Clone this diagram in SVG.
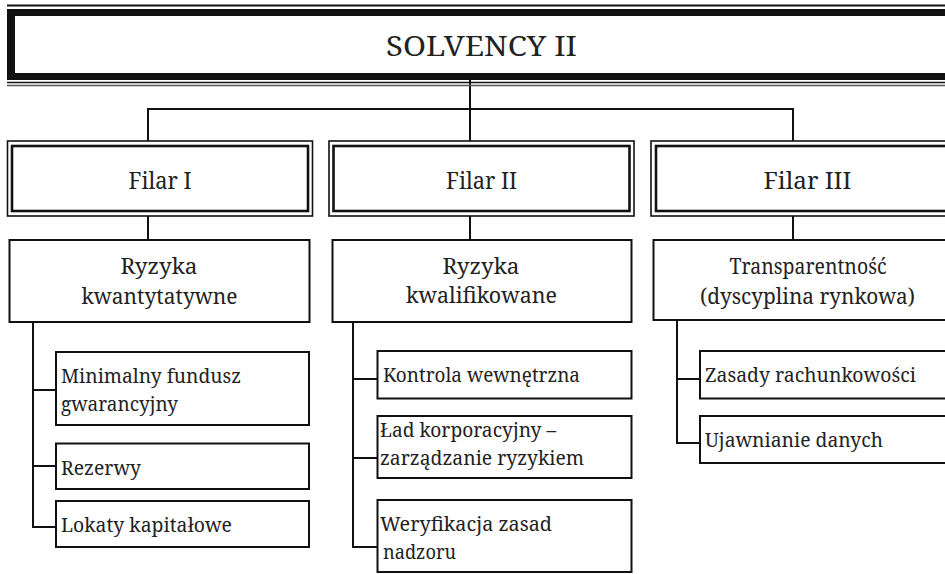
<svg xmlns="http://www.w3.org/2000/svg" width="945" height="574" viewBox="0 0 945 574">
<style>
text{font-family:'Noto Serif','DejaVu Serif',serif;fill:#222;}
.big{font-size:28px;text-anchor:middle;}
.m{font-size:23px;text-anchor:middle;}
.m2{font-size:21.5px;text-anchor:middle;}
.s{font-size:20.5px;}
.box{fill:#fff;stroke:#111;stroke-width:2;}
.o{fill:#fff;stroke:#111;stroke-width:1.6;}
.i{fill:none;stroke:#111;stroke-width:2.6;}
.c{fill:none;stroke:#111;stroke-width:2;}
</style>
<rect width="945" height="574" fill="#fff"/>
<g id="connectors">
<path class="c" d="M470 78 V141"/>
<path class="c" d="M148 141 V109 H793 V141"/>
<path class="c" d="M148 216 V240 M470 216 V240 M793 216 V240"/>
<path class="c" d="M33 322 V527 H56 M33 390 H56 M33 466 H56"/>
<path class="c" d="M353 322 V547 H377 M353 379 H377 M353 458 H377"/>
<path class="c" d="M677 320 V443 H700 M677 379 H700"/>
</g>
<g id="solvency">
<line x1="7" y1="5.5" x2="945" y2="5.5" stroke="#111" stroke-width="2"/>
<rect x="7" y="9" width="1000" height="71" fill="#111"/>
<rect x="15" y="16" width="1000" height="57" fill="#fff"/>
<line x1="7" y1="82.5" x2="945" y2="82.5" stroke="#111" stroke-width="1.6"/>
<line x1="7" y1="85.5" x2="945" y2="85.5" stroke="#555" stroke-width="1.4"/>
<text class="big" x="481.5" y="56" textLength="191" lengthAdjust="spacingAndGlyphs">SOLVENCY II</text>
</g>
<g id="filar1">
<rect class="o" x="7.5" y="141" width="305" height="75"/>
<rect class="i" x="12" y="146" width="296" height="65"/>
<text class="m" x="160" y="189" textLength="63" lengthAdjust="spacingAndGlyphs">Filar I</text>
</g>
<g id="filar2">
<rect class="o" x="329" y="141" width="305" height="75"/>
<rect class="i" x="333.5" y="146" width="296" height="65"/>
<text class="m" x="481.5" y="189" textLength="71" lengthAdjust="spacingAndGlyphs">Filar II</text>
</g>
<g id="filar3">
<rect class="o" x="651" y="141" width="320" height="75"/>
<rect class="i" x="656" y="146" width="320" height="65"/>
<text class="m" x="807.5" y="189" textLength="88" lengthAdjust="spacingAndGlyphs">Filar III</text>
</g>
<g id="ryzyka-kwant">
<rect class="box" x="9.5" y="240" width="300" height="82"/>
<text class="m2" x="159" y="274" textLength="77" lengthAdjust="spacingAndGlyphs">Ryzyka</text>
<text class="m2" x="159.5" y="303.5" textLength="156" lengthAdjust="spacingAndGlyphs">kwantytatywne</text>
</g>
<g id="ryzyka-kwal">
<rect class="box" x="332.5" y="240" width="299" height="82"/>
<text class="m2" x="481" y="273.5" textLength="77" lengthAdjust="spacingAndGlyphs">Ryzyka</text>
<text class="m2" x="481.5" y="303" textLength="151" lengthAdjust="spacingAndGlyphs">kwalifikowane</text>
</g>
<g id="transparentnosc">
<rect class="box" x="653.5" y="240" width="320" height="80"/>
<text class="m2" x="808" y="274" textLength="157" lengthAdjust="spacingAndGlyphs">Transparentność</text>
<text class="m2" x="807.5" y="303.5" textLength="215" lengthAdjust="spacingAndGlyphs">(dyscyplina rynkowa)</text>
</g>
<g id="minimalny">
<rect class="box" x="56" y="352" width="253" height="73"/>
<text class="s" x="61" y="383" textLength="180" lengthAdjust="spacingAndGlyphs">Minimalny fundusz</text>
<text class="s" x="61" y="411" textLength="117" lengthAdjust="spacingAndGlyphs">gwarancyjny</text>
</g>
<g id="rezerwy">
<rect class="box" x="56" y="443.5" width="253" height="45.5"/>
<text class="s" x="61" y="475" textLength="80" lengthAdjust="spacingAndGlyphs">Rezerwy</text>
</g>
<g id="lokaty">
<rect class="box" x="56" y="501" width="253" height="46"/>
<text class="s" x="61" y="532" textLength="171" lengthAdjust="spacingAndGlyphs">Lokaty kapitałowe</text>
</g>
<g id="kontrola">
<rect class="box" x="377.5" y="351" width="254" height="47.5"/>
<text class="s" x="383" y="382" textLength="197" lengthAdjust="spacingAndGlyphs">Kontrola wewnętrzna</text>
</g>
<g id="lad">
<rect class="box" x="377.5" y="416" width="254" height="62"/>
<text class="s" x="380" y="437" textLength="176" lengthAdjust="spacingAndGlyphs">Ład korporacyjny –</text>
<text class="s" x="380" y="465" textLength="204" lengthAdjust="spacingAndGlyphs">zarządzanie ryzykiem</text>
</g>
<g id="weryfikacja">
<rect class="box" x="377.5" y="500" width="254" height="72"/>
<text class="s" x="380" y="531" textLength="172" lengthAdjust="spacingAndGlyphs">Weryfikacja zasad</text>
<text class="s" x="383" y="559" textLength="73" lengthAdjust="spacingAndGlyphs">nadzoru</text>
</g>
<g id="zasady">
<rect class="box" x="700" y="351" width="260" height="47.5"/>
<text class="s" x="705" y="382" textLength="211" lengthAdjust="spacingAndGlyphs">Zasady rachunkowości</text>
</g>
<g id="ujawnianie">
<rect class="box" x="700" y="416" width="260" height="47"/>
<text class="s" x="705" y="447" textLength="178" lengthAdjust="spacingAndGlyphs">Ujawnianie danych</text>
</g>
</svg>
